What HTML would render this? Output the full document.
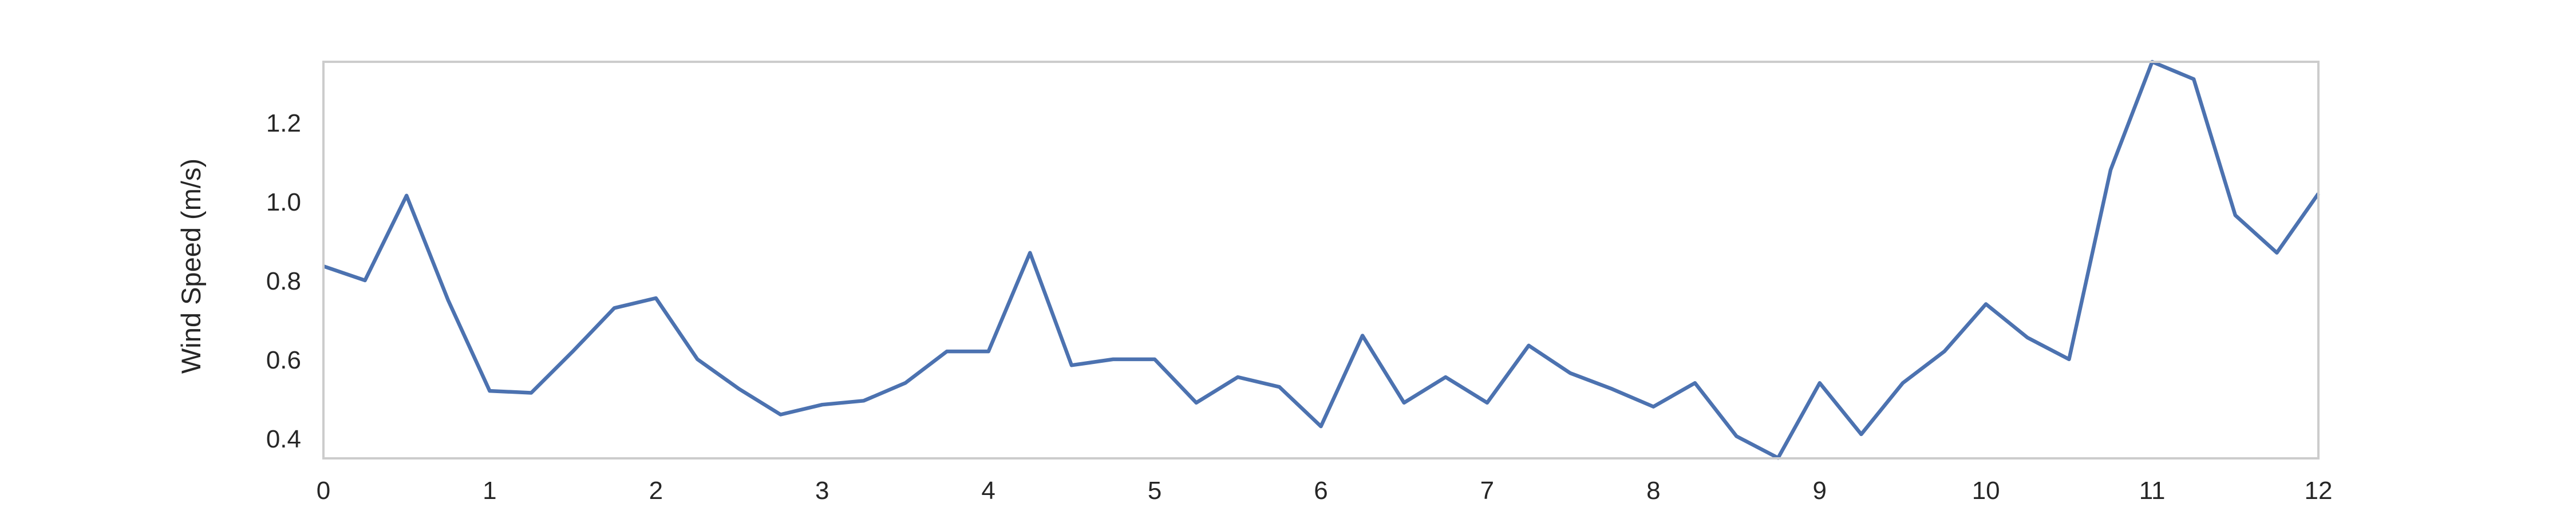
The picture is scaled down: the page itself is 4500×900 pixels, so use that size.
<!DOCTYPE html>
<html><head><meta charset="utf-8"><style>html,body{margin:0;padding:0;background:#fff}svg{display:block}</style></head>
<body>
<svg id="chart" width="4500" height="900" xmlns="http://www.w3.org/2000/svg" font-family="Liberation Sans, Arial, sans-serif">
<rect x="0" y="0" width="4500" height="900" fill="#fff"/>
<g id="ticks"></g>
<text x="0" y="0" transform="translate(350,465) rotate(-90)" text-anchor="middle" font-size="47" fill="#262626">Wind Speed (m/s)</text>
<path id="line" fill="none" stroke="#4c72b0" stroke-width="6.5" stroke-linejoin="round"/>
<rect x="565" y="108" width="3485" height="693" fill="none" stroke="#cccccc" stroke-width="4"/>
</svg>
<script>
const xValues = [0,0.25,0.5,0.75,1,1.25,1.5,1.75,2,2.25,2.5,2.75,3,3.25,3.5,3.75,4,4.25,4.5,4.75,5,5.25,5.5,5.75,6,6.25,6.5,6.75,7,7.25,7.5,7.75,8,8.25,8.5,8.75,9,9.25,9.5,9.75,10,10.25,10.5,10.75,11,11.25,11.5,11.75,12];
const windSpeed = [0.836,0.80,1.015,0.75,0.52,0.515,0.62,0.73,0.755,0.60,0.525,0.46,0.485,0.495,0.54,0.62,0.62,0.87,0.585,0.60,0.60,0.49,0.555,0.53,0.43,0.66,0.49,0.555,0.49,0.635,0.565,0.525,0.48,0.54,0.405,0.35,0.54,0.41,0.54,0.62,0.74,0.655,0.60,1.08,1.354,1.31,0.965,0.87,1.02];
const xTicks = [0,1,2,3,4,5,6,7,8,9,10,11,12];
const yTicks = [0.4,0.6,0.8,1.0,1.2];
const yTickLabels = ["0.4","0.6","0.8","1.0","1.2"];

const L=565,R=4050,T=108,B=801, xMin=0,xMax=12,yMin=0.349,yMax=1.354;
const sx=v=>L+(v-xMin)/(xMax-xMin)*(R-L);
const sy=v=>B-(v-yMin)/(yMax-yMin)*(B-T);
const NS="http://www.w3.org/2000/svg";
const line=document.getElementById('line');
line.setAttribute('d', xValues.map((x,i)=>(i?'L':'M')+sx(x).toFixed(1)+','+sy(windSpeed[i]).toFixed(1)).join(' '));
const g=document.getElementById('ticks');
xTicks.forEach(t=>{
  const el=document.createElementNS(NS,'text');
  
  
  el.setAttribute('x',sx(t));el.setAttribute('y',872);
  el.setAttribute('text-anchor','middle');el.setAttribute('font-size','44');el.setAttribute('fill','#262626');
  el.textContent=String(t);g.appendChild(el);
});
yTicks.forEach((t,i)=>{
  const el=document.createElementNS(NS,'text');
  
  
  el.setAttribute('x',526);el.setAttribute('y',sy(t)+16);
  el.setAttribute('text-anchor','end');el.setAttribute('font-size','44');el.setAttribute('fill','#262626');
  el.textContent=yTickLabels[i];g.appendChild(el);
});
</script>
</body></html>
